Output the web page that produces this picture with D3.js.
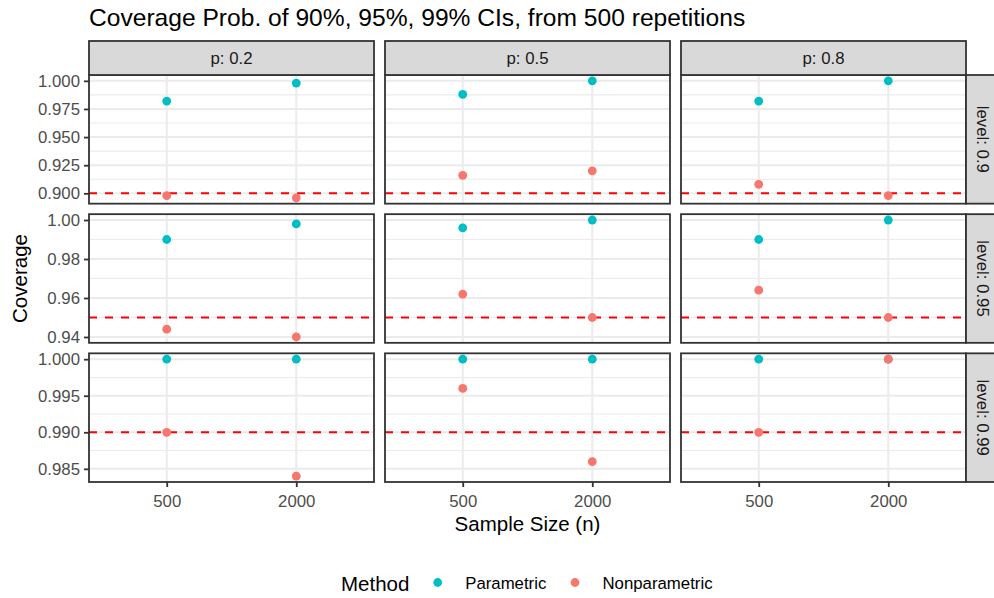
<!DOCTYPE html>
<html>
<head>
<meta charset="utf-8">
<title>coverage facets</title>
<script src="https://cdnjs.cloudflare.com/ajax/libs/d3/7.8.5/d3.min.js"></script>
<style>
  body { margin: 0; background: #fff; }
  svg { display: block; font-family: "Liberation Sans", Arial, sans-serif; }
</style>
</head>
<body>
<svg id="chart" width="994" height="598"></svg>
<script>
const pValues = ["0.2", "0.5", "0.8"];
const levels = ["0.9", "0.95", "0.99"];
const sampleSizes = ["500", "2000"];
const methods = ["Parametric", "Nonparametric"];
const methodColors = ["#00BFC4", "#F8766D"];

// coverage[level][p][n]
const parametric = [
  [[0.982, 0.998], [0.988, 1.000], [0.982, 1.000]],
  [[0.990, 0.998], [0.996, 1.000], [0.990, 1.000]],
  [[1.000, 1.000], [1.000, 1.000], [1.000, 1.000]]
];
const nonparametric = [
  [[0.898, 0.896], [0.916, 0.920], [0.908, 0.898]],
  [[0.944, 0.940], [0.962, 0.950], [0.964, 0.950]],
  [[0.990, 0.984], [0.996, 0.986], [0.990, 1.000]]
];

const yTickLabels = [
  ["0.900", "0.925", "0.950", "0.975", "1.000"],
  ["0.94", "0.96", "0.98", "1.00"],
  ["0.985", "0.990", "0.995", "1.000"]
];

const svg = d3.select("#chart");

// facet layout
const pLeft = 89, pRight = 966, pTop = 75, pBottom = 482, gap = 11;
const colBand = d3.scaleBand().domain(pValues).range([pLeft, pRight])
  .paddingInner(3 * gap / (pRight - pLeft + gap));
const rowBand = d3.scaleBand().domain(levels).range([pTop, pBottom])
  .paddingInner(3 * (gap - 0.5) / (pBottom - pTop + gap - 0.5));
const pw = colBand.bandwidth(), ph = rowBand.bandwidth();

const x = d3.scalePoint().domain(sampleSizes).range([0, pw]).padding(0.6);

const grey20 = "#333333", grey30 = "#4D4D4D", grey92 = "#EBEBEB";

svg.append("text")
  .attr("x", pLeft).attr("y", 26)
  .attr("font-size", 24.6).attr("fill", "#000")
  .text("Coverage Prob. of 90%, 95%, 99% CIs, from 500 repetitions");

levels.forEach((lev, r) => {
  const vals = parametric[r].flat().concat(nonparametric[r].flat(), [+lev]);
  const ext = d3.extent(vals);
  const pad = (ext[1] - ext[0]) * 0.05;
  const y = d3.scaleLinear().domain([ext[0] - pad, ext[1] + pad]).range([ph, 0]);
  const ticks = yTickLabels[r].map(Number);
  const step = ticks[1] - ticks[0];
  const minors = [ticks[0] - step / 2].concat(ticks.map(t => t + step / 2))
    .filter(v => v >= y.domain()[0] && v <= y.domain()[1]);

  pValues.forEach((p, c) => {
    const g = svg.append("g")
      .attr("transform", `translate(${colBand(p)},${rowBand(lev)})`);

    g.append("rect").attr("width", pw).attr("height", ph).attr("fill", "#fff");

    g.selectAll(".minor").data(minors).enter().append("line")
      .attr("x1", 0).attr("x2", pw)
      .attr("y1", d => y(d)).attr("y2", d => y(d))
      .attr("stroke", grey92).attr("stroke-width", 1.1);

    g.selectAll(".major").data(ticks).enter().append("line")
      .attr("x1", 0).attr("x2", pw)
      .attr("y1", d => y(d)).attr("y2", d => y(d))
      .attr("stroke", grey92).attr("stroke-width", 2);

    g.selectAll(".vmajor").data(sampleSizes).enter().append("line")
      .attr("x1", d => x(d)).attr("x2", d => x(d))
      .attr("y1", 0).attr("y2", ph)
      .attr("stroke", grey92).attr("stroke-width", 2);

    g.append("line")
      .attr("x1", 0).attr("x2", pw)
      .attr("y1", y(+lev)).attr("y2", y(+lev))
      .attr("stroke", "red").attr("stroke-width", 2)
      .attr("stroke-dasharray", "8,8");

    [parametric, nonparametric].forEach((series, m) => {
      g.selectAll(".pt" + m).data(sampleSizes).enter().append("circle")
        .attr("cx", d => x(d))
        .attr("cy", (d, i) => y(series[r][c][i]))
        .attr("r", 4.4)
        .attr("fill", methodColors[m]);
    });

    g.append("rect").attr("width", pw).attr("height", ph)
      .attr("fill", "none").attr("stroke", grey20).attr("stroke-width", 1.8);

    // top strips
    if (r === 0) {
      svg.append("rect")
        .attr("x", colBand(p)).attr("y", 41).attr("width", pw).attr("height", pTop - 41)
        .attr("fill", "#D9D9D9").attr("stroke", grey20).attr("stroke-width", 1.8);
      svg.append("text")
        .attr("x", colBand(p) + pw / 2).attr("y", (41 + pTop) / 2)
        .attr("dy", "0.35em").attr("text-anchor", "middle")
        .attr("font-size", 16.8).attr("fill", "#1A1A1A")
        .text("p: " + p);
    }

    // y axis on first column
    if (c === 0) {
      const ax = svg.append("g")
        .attr("transform", `translate(${pLeft},${rowBand(lev)})`)
        .call(d3.axisLeft(y).tickValues(ticks)
          .tickFormat((d, i) => yTickLabels[r][i]).tickSize(5).tickPadding(4));
      ax.select(".domain").remove();
      ax.selectAll(".tick line").attr("stroke", grey20).attr("stroke-width", 1.8);
      ax.selectAll(".tick text").attr("fill", grey30)
        .attr("font-size", 16.8).attr("font-family", "Liberation Sans, Arial, sans-serif");
    }

    // x axis on last row
    if (r === levels.length - 1) {
      const ax = svg.append("g")
        .attr("transform", `translate(${colBand(p)},${pBottom})`)
        .call(d3.axisBottom(x).tickSize(5).tickPadding(4));
      ax.select(".domain").remove();
      ax.selectAll(".tick line").attr("stroke", grey20).attr("stroke-width", 1.8);
      ax.selectAll(".tick text").attr("fill", grey30).attr("dy", null).attr("y", 24.7)
        .attr("font-size", 16.8).attr("font-family", "Liberation Sans, Arial, sans-serif");
    }
  });

  // right strips
  svg.append("rect")
    .attr("x", pRight).attr("y", rowBand(lev)).attr("width", 34).attr("height", ph)
    .attr("fill", "#D9D9D9").attr("stroke", grey20).attr("stroke-width", 1.8);
  svg.append("text")
    .attr("transform", `translate(${pRight + 17},${rowBand(lev) + ph / 2}) rotate(90)`)
    .attr("dy", "0.35em").attr("text-anchor", "middle")
    .attr("font-size", 16.8).attr("fill", "#1A1A1A")
    .text("level: " + lev);
});

// axis titles
svg.append("text")
  .attr("x", (pLeft + pRight) / 2).attr("y", 531)
  .attr("text-anchor", "middle").attr("font-size", 20.5).attr("fill", "#000")
  .text("Sample Size (n)");
svg.append("text")
  .attr("transform", `translate(26.5,${(pTop + pBottom) / 2}) rotate(-90)`)
  .attr("text-anchor", "middle").attr("font-size", 20.5).attr("fill", "#000")
  .text("Coverage");

// legend
const legend = svg.append("g");
legend.append("text")
  .attr("x", 341).attr("y", 591)
  .attr("font-size", 20.5).attr("fill", "#000")
  .text("Method");
const keyX = [437.7, 575];
methods.forEach((m, i) => {
  legend.append("circle")
    .attr("cx", keyX[i]).attr("cy", 582.5).attr("r", 4.4)
    .attr("fill", methodColors[i]);
  legend.append("text")
    .attr("x", keyX[i] + 27.5).attr("y", 589)
    .attr("font-size", 16.8).attr("fill", "#000")
    .text(m);
});
</script>
</body>
</html>
